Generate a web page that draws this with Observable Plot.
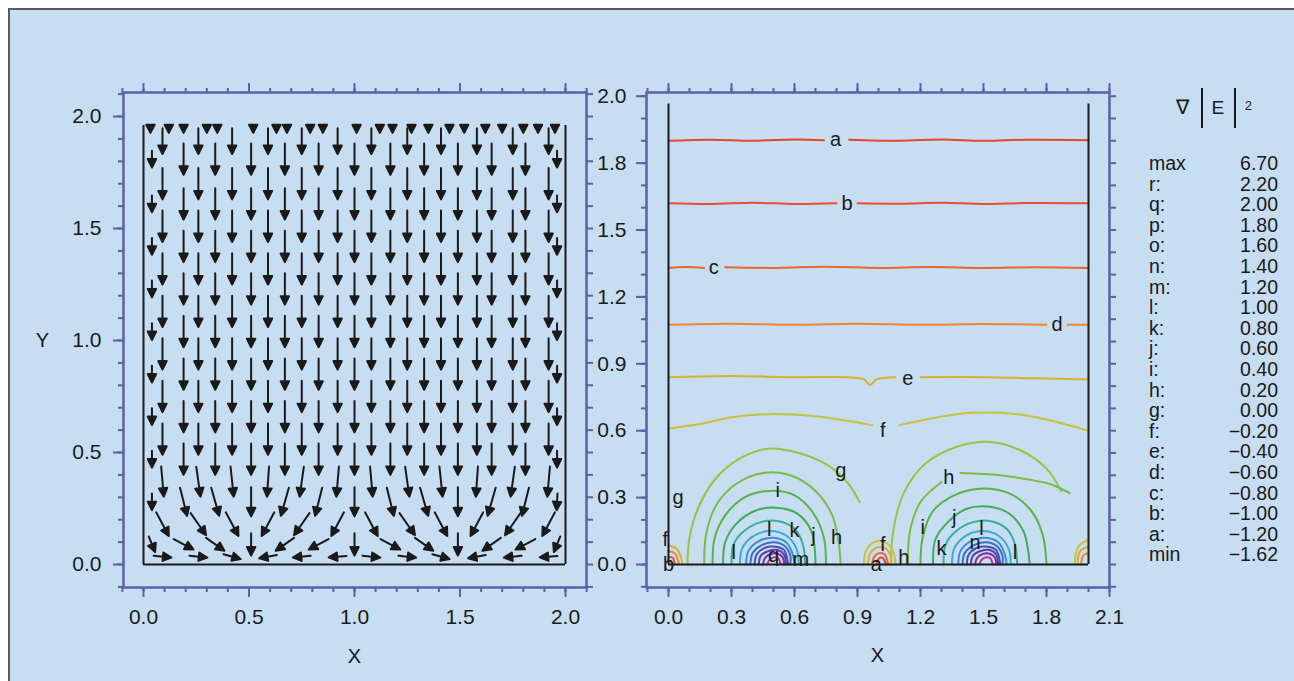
<!DOCTYPE html>
<html><head><meta charset="utf-8">
<script src="https://cdn.jsdelivr.net/npm/d3@7"></script>
<script src="https://cdn.jsdelivr.net/npm/@observablehq/plot@0.6"></script>
<style>
html,body{margin:0;padding:0;background:#fff;}
#fig{position:relative;width:1294px;height:681px;overflow:hidden;font-family:"Liberation Sans",Arial,sans-serif;color:#1a1a1a;}
#bg{position:absolute;left:8px;top:8px;width:1300px;height:700px;background:#c7ddf1;border:2px solid #5a5a5a;box-sizing:border-box;}
.layer{position:absolute;left:0;top:0;}
.lg{position:absolute;font-size:19.5px;line-height:18px;white-space:nowrap;}
</style></head><body><div id="fig"><div id="bg"></div></div>
<script>
// ---------- data: left panel (vector field) ----------
const colsA = [0.09,0.26,0.42,0.59,0.75,0.92,1.08,1.25,1.41,1.58,1.75,1.92];
const colsB = [0.04,0.19,0.34,0.51,0.67,0.83,1.00,1.17,1.33,1.49,1.65,1.81,1.96];
const capX = [0.033,0.12,0.19,0.30,0.35,0.52,0.63,0.68,0.79,0.85,1.01,1.12,1.18,1.27,1.35,1.45,1.52,1.62,1.70,1.80,1.87,1.95];
const capY = 1.945, capLen = 0.036;
const topRowY = 1.89, topRowLen = 0.115;
const bulkRowsA = [1.70,1.51,1.32,1.13,0.94,0.75,0.56];
const bulkRowsB = [1.81,1.61,1.42,1.23,1.04,0.85,0.66,0.47];
const bulkLen = 0.14, wallLen = 0.075;
const lowRowY   = [0.37, 0.28, 0.18, 0.09, 0.035];
const lowRowSet = ["A","B","A","B","A"];
const lowRowLen = [0.135, 0.13, 0.12, 0.1, 0.08];
const lowAngles = [
  [5, 8, 6, -4, -8, -5, 5, 8, 6, -4, -8, -5],
  [0, 14, 16, 0, -16, -14, 0, 14, 16, 0, -16, -14, -3],
  [28, 35, 28, -28, -35, -28, 28, 35, 28, -28, -35, -28],
  [22, 62, 55, 0, -55, -62, 0, 62, 55, 0, -55, -62, -22],
  [84, 84, 74, -80, -84, -85, 84, 84, 74, -80, -84, -85]
];

// ---------- data: right panel (contours of grad|E|^2) ----------
const levelNames  = ["a","b","c","d","e","f","g","h","i","j","k","l","m","n","o","p","q","r"];
const levelValues = [-1.2,-1.0,-0.8,-0.6,-0.4,-0.2,0.0,0.2,0.4,0.6,0.8,1.0,1.2,1.4,1.6,1.8,2.0,2.2];
const levelColors = ["#e5452b","#e8502a","#ea652b","#ec872e","#dcae33","#c9c23e","#98c444","#79bd45","#58b346","#40ae58","#35b09a","#39acd6","#3a8fd4","#3d6ec6","#4a4fb8","#5b3ca8","#7b2fa3","#b0309e"];
const contourPaths = [
  ["a", [0,1.90, 0.2,1.905, 0.4,1.9, 0.6,1.906, 0.74,1.902]],
  ["a", [0.86,1.905, 1.1,1.9, 1.3,1.906, 1.5,1.9, 1.7,1.905, 2.0,1.903]],
  ["b", [0,1.62, 0.2,1.617, 0.4,1.622, 0.6,1.617, 0.80,1.62]],
  ["b", [0.90,1.62, 1.1,1.618, 1.3,1.622, 1.5,1.617, 1.7,1.621, 2.0,1.62]],
  ["c", [0,1.33, 0.08,1.334, 0.17,1.33]],
  ["c", [0.27,1.333, 0.5,1.33, 0.75,1.335, 1.0,1.33, 1.25,1.334, 1.5,1.33, 1.75,1.333, 2.0,1.33]],
  ["d", [0,1.075, 0.3,1.08, 0.6,1.075, 0.9,1.08, 1.2,1.075, 1.5,1.078, 1.80,1.075]],
  ["d", [1.90,1.075, 2.0,1.075]],
  ["e", [0,0.84, 0.3,0.845, 0.6,0.84, 0.85,0.84, 0.93,0.83, 0.96,0.805, 0.99,0.83, 1.08,0.84]],
  ["e", [1.2,0.84, 1.5,0.84, 1.75,0.835, 2.0,0.83]],
  ["f", [0,0.61, 0.15,0.63, 0.3,0.66, 0.5,0.675, 0.7,0.665, 0.85,0.645, 0.97,0.625]],
  ["f", [1.1,0.625, 1.25,0.655, 1.45,0.68, 1.65,0.675, 1.8,0.65, 2.0,0.6]],
  ["g", [0.09,0.0, 0.10,0.12, 0.14,0.25, 0.22,0.38, 0.33,0.47, 0.48,0.52, 0.62,0.50, 0.75,0.45, 0.85,0.37, 0.91,0.28]],
  ["h", [0.17,0, 0.18,0.14, 0.23,0.27, 0.32,0.36, 0.45,0.41, 0.58,0.40, 0.70,0.33, 0.78,0.22, 0.81,0.1, 0.82,0]],
  ["i", [0.21,0, 0.22,0.12, 0.27,0.22, 0.36,0.30, 0.48,0.33, 0.60,0.31, 0.69,0.23, 0.74,0.12, 0.75,0]],
  ["j", [0.26,0, 0.27,0.10, 0.32,0.18, 0.41,0.24, 0.51,0.255, 0.61,0.23, 0.68,0.15, 0.70,0]],
  ["k", [0.30,0, 0.31,0.09, 0.36,0.15, 0.44,0.19, 0.52,0.195, 0.60,0.16, 0.64,0.09, 0.65,0]],
  ["l", [0.34,0, 0.35,0.07, 0.40,0.125, 0.48,0.15, 0.56,0.13, 0.61,0.07, 0.62,0]],
  ["m", [0.37,0, 0.38,0.06, 0.43,0.105, 0.5,0.12, 0.56,0.1, 0.59,0.05, 0.60,0]],
  ["n", [0.39,0, 0.40,0.05, 0.44,0.085, 0.5,0.10, 0.55,0.085, 0.58,0.04, 0.58,0]],
  ["o", [0.41,0, 0.42,0.045, 0.46,0.075, 0.51,0.08, 0.55,0.065, 0.57,0]],
  ["p", [0.43,0, 0.44,0.04, 0.48,0.062, 0.52,0.065, 0.55,0.045, 0.56,0]],
  ["q", [0.45,0, 0.46,0.03, 0.49,0.048, 0.52,0.048, 0.545,0.03, 0.55,0]],
  ["r", [0.47,0, 0.48,0.02, 0.5,0.032, 0.52,0.03, 0.535,0]],
  ["g", [1.06,0.0, 1.07,0.15, 1.12,0.32, 1.22,0.45, 1.38,0.53, 1.52,0.55, 1.68,0.51, 1.80,0.43, 1.87,0.33]],
  ["h", [1.14,0, 1.15,0.15, 1.2,0.28, 1.3,0.37]],
  ["h", [1.39,0.41, 1.58,0.40, 1.72,0.38, 1.82,0.36, 1.91,0.32]],
  ["i", [1.20,0, 1.21,0.12, 1.26,0.24, 1.36,0.31, 1.48,0.34, 1.62,0.32, 1.72,0.25, 1.78,0.14, 1.80,0]],
  ["j", [1.26,0, 1.27,0.11, 1.33,0.19, 1.42,0.25, 1.52,0.26, 1.62,0.23, 1.69,0.15, 1.72,0]],
  ["k", [1.31,0, 1.32,0.09, 1.37,0.15, 1.45,0.19, 1.53,0.195, 1.61,0.16, 1.65,0.09, 1.66,0]],
  ["l", [1.35,0, 1.36,0.07, 1.41,0.125, 1.49,0.15, 1.57,0.13, 1.62,0.07, 1.63,0]],
  ["m", [1.38,0, 1.39,0.06, 1.44,0.105, 1.51,0.12, 1.57,0.1, 1.60,0.05, 1.61,0]],
  ["n", [1.40,0, 1.41,0.05, 1.45,0.085, 1.51,0.10, 1.56,0.085, 1.59,0.04, 1.59,0]],
  ["o", [1.42,0, 1.43,0.045, 1.47,0.075, 1.52,0.08, 1.56,0.065, 1.58,0]],
  ["p", [1.44,0, 1.45,0.04, 1.49,0.062, 1.53,0.065, 1.56,0.045, 1.57,0]],
  ["q", [1.46,0, 1.47,0.03, 1.50,0.048, 1.53,0.048, 1.555,0.03, 1.56,0]],
  ["r", [1.48,0, 1.49,0.02, 1.51,0.032, 1.53,0.03, 1.545,0]],
  ["e", [0,0.085, 0.04,0.07, 0.06,0.03, 0.065,0]],
  ["d", [0,0.06, 0.03,0.05, 0.045,0.02, 0.05,0]],
  ["b", [0,0.035, 0.02,0.03, 0.03,0]],
  ["f", [0.93,0, 0.94,0.06, 0.98,0.1, 1.03,0.1, 1.07,0.06, 1.08,0]],
  ["e", [0.95,0, 0.96,0.05, 0.99,0.075, 1.03,0.075, 1.055,0.045, 1.06,0]],
  ["c", [0.97,0, 0.98,0.035, 1.0,0.05, 1.03,0.045, 1.045,0]],
  ["a", [0.99,0, 1.0,0.025, 1.02,0.03, 1.035,0]],
  ["f", [2.0,0.11, 1.96,0.09, 1.94,0.05, 1.935,0]],
  ["e", [2.0,0.08, 1.965,0.065, 1.95,0.03, 1.95,0]],
  ["d", [2.0,0.05, 1.975,0.04, 1.965,0]]
];
const labelText = ["a","b","c","d","e","f","g","g","h","i","l","k","j","h","l","q","m","f","b","f","a","h","i","j","k","l","n","l"];
const labelX = [0.795,0.85,0.215,1.85,1.14,1.02,0.82,0.045,1.335,0.52,0.48,0.60,0.69,0.80,0.31,0.50,0.63,-0.015,0.0,1.02,0.99,1.12,1.21,1.36,1.30,1.49,1.46,1.65];
const labelY = [1.905,1.62,1.33,1.075,0.835,0.60,0.42,0.30,0.39,0.33,0.155,0.15,0.13,0.12,0.055,0.04,0.02,0.11,0.0,0.09,0.0,0.03,0.165,0.21,0.07,0.16,0.10,0.055];

// ---------- axis ticks ----------
const leftMajor = [0,0.5,1,1.5,2];
const rightMajor = [0,0.3,0.6,0.9,1.2,1.5,1.8,2.1];
const rightYLabels = ["0.0","0.3","0.6","0.9","1.2","1.5","1.8","2.0"];
const minor = [-0.1,0,0.1,0.2,0.3,0.4,0.5,0.6,0.7,0.8,0.9,1.0,1.1,1.2,1.3,1.4,1.5,1.6,1.7,1.8,1.9,2.0,2.1];

// ---------- legend ----------
const legendNames = ["max","r:","q:","p:","o:","n:","m:","l:","k:","j:","i:","h:","g:","f:","e:","d:","c:","b:","a:","min"];
const legendValues = ["6.70","2.20","2.00","1.80","1.60","1.40","1.20","1.00","0.80","0.60","0.40","0.20","0.00","\u22120.20","\u22120.40","\u22120.60","\u22120.80","\u22121.00","\u22121.20","\u22121.62"];

// ================= build =================
const W = 1294, H = 681;
const axisColor = "#5d5fa8";
const font = "'Liberation Sans', Arial, sans-serif";
const fig = document.getElementById("fig");

const arrowShape = {
  draw(context, l) {
    const h = Math.min(8.5, l), w = 4.2;
    if (l > h) { context.moveTo(0, 0); context.lineTo(0, -l + h); }
    context.moveTo(0, -l);
    context.lineTo(w, -l + h);
    context.lineTo(-w, -l + h);
    context.closePath();
  }
};

const arrows = [];
for (const x of capX) arrows.push({x, y: capY, len: capLen, rot: 180});
for (const x of colsA) arrows.push({x, y: topRowY, len: topRowLen, rot: 180});
for (const y of bulkRowsA) for (const x of colsA) arrows.push({x, y, len: bulkLen, rot: 180});
for (const y of bulkRowsB) colsB.forEach((x, i) => arrows.push({x, y, len: (i === 0 || i === colsB.length - 1) ? wallLen : bulkLen, rot: 180}));
lowRowY.forEach((y, r) => {
  const cols = lowRowSet[r] === "A" ? colsA : colsB;
  cols.forEach((x, i) => {
    const wall = lowRowSet[r] === "B" && (i === 0 || i === cols.length - 1);
    arrows.push({x, y, len: wall ? Math.min(wallLen, lowRowLen[r]) : lowRowLen[r], rot: 180 - lowAngles[r][i]});
  });
});

function frameAxes(xMajor, xFmt, yMajor, yFmt, yLabelSide, majorLen) {
  const common = {stroke: axisColor, strokeWidth: 2, label: null};
  const txt = {fill: "#1a1a1a", fontSize: 21, tickPadding: 13};
  return [
    Plot.axisX({...common, anchor: "top", ticks: minor, tickSize: 5, tickFormat: () => ""}),
    Plot.axisX({...common, anchor: "top", ticks: xMajor, tickSize: majorLen, tickFormat: () => ""}),
    Plot.axisX({...common, anchor: "bottom", ticks: minor, tickSize: 5, tickFormat: () => ""}),
    Plot.axisX({...common, ...txt, anchor: "bottom", ticks: xMajor, tickSize: majorLen, tickFormat: xFmt, tickPadding: 12}),
    Plot.axisY({...common, anchor: "right", ticks: minor, tickSize: 6, tickFormat: () => ""}),
    Plot.axisY({...common, anchor: "left", ticks: minor, tickSize: 5, tickFormat: () => ""}),
    Plot.axisY({...common, ...txt, anchor: "left", ticks: yMajor, tickSize: majorLen, tickFormat: yFmt, tickPadding: yLabelSide}),
    Plot.frame({stroke: axisColor, strokeWidth: 2.5})
  ];
}

const leftPlot = Plot.plot({
  width: W, height: H,
  marginLeft: 123, marginRight: W - 586, marginTop: 92, marginBottom: H - 587,
  style: {background: "transparent", fontFamily: font, overflow: "visible"},
  x: {domain: [0, 2], range: [143, 565]},
  y: {domain: [0, 2], range: [564, 116]},
  length: {type: "linear", domain: [0, 1], range: [0, 224]},
  marks: [
    ...frameAxes(leftMajor, d3.format(".1f"), leftMajor, d3.format(".1f"), 12, 10),
    Plot.ruleX([0, 2], {y1: 0, y2: 1.96, stroke: "#1a1a1a", strokeWidth: 2}),
    Plot.ruleY([0], {x1: 0, x2: 2, stroke: "#1a1a1a", strokeWidth: 2}),
    Plot.vector(arrows, {x: "x", y: "y", length: "len", rotate: "rot", anchor: "middle", shape: arrowShape, stroke: "#1a1a1a", fill: "#1a1a1a", strokeWidth: 2}),
    Plot.text(["X"], {x: 1.0, y: -0.41, text: d => d, fontSize: 20, fill: "#1a1a1a"}),
    Plot.text(["Y"], {x: -0.479, y: 1.0, text: d => d, fontSize: 20, fill: "#1a1a1a"})
  ]
});
leftPlot.classList.add("layer");
fig.appendChild(leftPlot);

const contourRows = [];
contourPaths.forEach(([lvl, pts], id) => {
  for (let k = 0; k < pts.length; k += 2) contourRows.push({id, lvl, x: pts[k], y: pts[k + 1]});
});
const labels = labelText.map((t, i) => ({t, x: labelX[i], y: labelY[i]}));

const rightPlot = Plot.plot({
  width: W, height: H,
  marginLeft: 646, marginRight: W - 1109, marginTop: 92, marginBottom: H - 587,
  style: {background: "transparent", fontFamily: font, overflow: "visible"},
  x: {domain: [0, 2.1], range: [668, 1109]},
  y: {domain: [0, 2.1], range: [564, 95.7]},
  color: {type: "ordinal", domain: levelNames, range: levelColors},
  marks: [
    ...frameAxes(rightMajor, d3.format(".1f"), rightMajor, (d, i) => rightYLabels[i], 10, 10),
    Plot.line(contourRows, {x: "x", y: "y", z: "id", stroke: "lvl", curve: "catmull-rom", strokeWidth: 2}),
    Plot.ruleX([0, 2], {y1: 0, y2: 2.065, stroke: "#1a1a1a", strokeWidth: 2}),
    Plot.ruleY([0], {x1: 0, x2: 2, stroke: "#1a1a1a", strokeWidth: 2}),
    Plot.text(labels, {x: "x", y: "y", text: "t", fontSize: 20, fill: "#1a1a1a"}),
    Plot.text(["X"], {x: 0.995, y: -0.41, text: d => d, fontSize: 20, fill: "#1a1a1a"})
  ]
});
rightPlot.classList.add("layer");
fig.appendChild(rightPlot);

// legend (HTML text)
const head = document.createElement("div");
head.className = "lg";
head.style.left = "1176px"; head.style.top = "88px";
head.innerHTML = '<span style="font-size:20px;position:relative;top:10px">\u2207</span>' +
  '<span style="display:inline-block;width:1.5px;height:40px;background:#1a1a1a;margin:0 9px 0 12px;vertical-align:top"></span>' +
  '<span style="font-size:19px;position:relative;top:10px">E</span>' +
  '<span style="display:inline-block;width:1.5px;height:40px;background:#1a1a1a;margin:0 9px 0 10px;vertical-align:top"></span>' +
  '<span style="font-size:13px;position:relative;top:6px">2</span>';
fig.appendChild(head);
const legendTop0 = 154, legendStep = 20.6;
legendNames.forEach((n, i) => {
  const top = (legendTop0 + i * legendStep) + "px";
  const a = document.createElement("div");
  a.className = "lg"; a.textContent = n;
  a.style.left = "1149px"; a.style.top = top;
  fig.appendChild(a);
  const b = document.createElement("div");
  b.className = "lg"; b.textContent = legendValues[i];
  b.style.right = (W - 1278) + "px"; b.style.top = top;
  fig.appendChild(b);
});
</script>
</body></html>
